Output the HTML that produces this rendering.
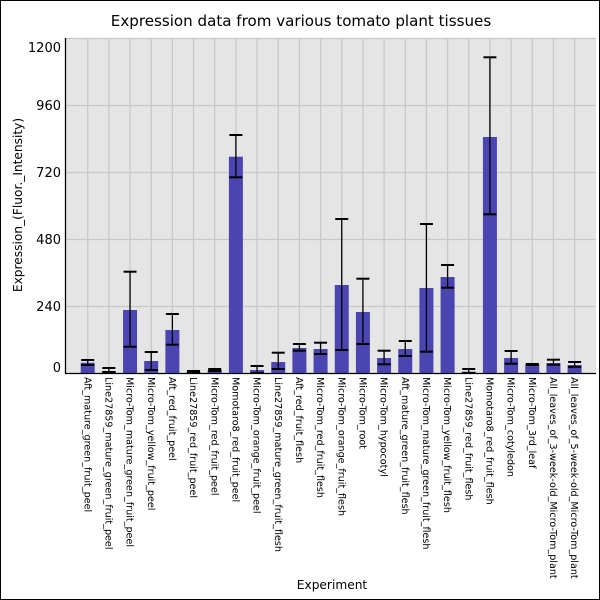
<!DOCTYPE html>
<html><head><meta charset="utf-8"><style>body{margin:0;background:#fff}svg{display:block}text{font-family:"DejaVu Sans","Liberation Sans",sans-serif}</style></head><body>
<svg width="600" height="600" xmlns="http://www.w3.org/2000/svg">
<rect x="0.5" y="0.5" width="599" height="599" fill="#fff" stroke="#000"/>
<text x="301" y="26" font-size="15.1" text-anchor="middle">Expression data from various tomato plant tissues</text>
<rect x="65" y="38" width="531" height="335" fill="#e5e5e5"/>
<g stroke="#c8c8c8" stroke-width="1.3">
<line x1="65" x2="596" y1="38.5" y2="38.5"/><line x1="65" x2="596" y1="105.5" y2="105.5"/><line x1="65" x2="596" y1="172.5" y2="172.5"/><line x1="65" x2="596" y1="239.5" y2="239.5"/><line x1="65" x2="596" y1="306.5" y2="306.5"/>
</g>
<g id="vg" stroke="#c8c8c8" stroke-width="1.3"></g>
<g id="bars"></g>
<g stroke="#000" stroke-width="1.3"><line x1="65.5" y1="38" x2="65.5" y2="373.5"/><line x1="65" y1="373.5" x2="596" y2="373.5"/></g>
<g font-size="13" text-anchor="end">
<text x="61" y="52">1200</text><text x="61" y="110">960</text><text x="61" y="177">720</text><text x="61" y="244">480</text><text x="61" y="311">240</text><text x="61" y="372">0</text>
</g>
<text transform="translate(22,205) rotate(-90)" font-size="12.2" text-anchor="middle">Expression_(Fluor._Intensity)</text>
<text x="332" y="589" font-size="12.2" text-anchor="middle">Experiment</text>
<g id="lbl" font-size="9.6"></g>
<script>
var names=["Aft_mature_green_fruit_peel","Line27859_mature_green_fruit_peel","Micro-Tom_mature_green_fruit_peel","Micro-Tom_yellow_fruit_peel","Aft_red_fruit_peel","Line27859_red_fruit_peel","Micro-Tom_red_fruit_peel","Momotaro8_red_fruit_peel","Micro-Tom_orange_fruit_peel","Line27859_mature_green_fruit_flesh","Aft_red_fruit_flesh","Micro-Tom_red_fruit_flesh","Micro-Tom_orange_fruit_flesh","Micro-Tom_root","Micro-Tom_hypocotyl","Aft_mature_green_fruit_flesh","Micro-Tom_mature_green_fruit_flesh","Micro-Tom_yellow_fruit_flesh","Line27859_red_fruit_flesh","Momotaro8_red_fruit_flesh","Micro-Tom_cotyledon","Micro-Tom_3rd_leaf","All_leaves_of_3-week-old_Micro-Tom_plant","All_leaves_of_5-week-old_Micro-Tom_plant"];
var d=[[362.7,360,365],[371,368,372],[310,271.7,346.7],[361,352,370],[330,314,344.7],[372,371,373],[370,369,371],[156.7,135,177.3],[370,366,373],[362,352.7,369],[348,344,350.7],[349,342.7,354],[285,219,350],[312,278.7,344],[358,350.7,364.3],[349,341,356],[288,224,351.7],[277,265,287.7],[371.7,369,373],[137,57.3,214.3],[358,351,363.7],[364.7,364,365],[363,359.7,364.7],[365,362,367]];
var ns="http://www.w3.org/2000/svg",vg=document.getElementById("vg"),b=document.getElementById("bars"),l=document.getElementById("lbl");
function el(p,t,a,tx){var e=document.createElementNS(ns,t);for(var k in a)e.setAttribute(k,a[k]);if(tx)e.textContent=tx;p.appendChild(e);return e;}
for(var i=0;i<24;i++){var c=87.7+i*21.17;
el(vg,"line",{x1:c,x2:c,y1:38,y2:373});
el(b,"rect",{x:c-7,y:d[i][0],width:14,height:373.5-d[i][0],fill:"#4b45b1"});
el(b,"line",{x1:c,x2:c,y1:d[i][1],y2:d[i][2],stroke:"#000","stroke-width":1.3});
el(b,"line",{x1:c-6.5,x2:c+6.5,y1:d[i][1],y2:d[i][1],stroke:"#000","stroke-width":2});
el(b,"line",{x1:c-6.5,x2:c+6.5,y1:d[i][2],y2:d[i][2],stroke:"#000","stroke-width":2});
el(l,"text",{transform:"translate("+(c-3.4)+",377) rotate(90)"},names[i]);}
</script>
</svg>
</body></html>
